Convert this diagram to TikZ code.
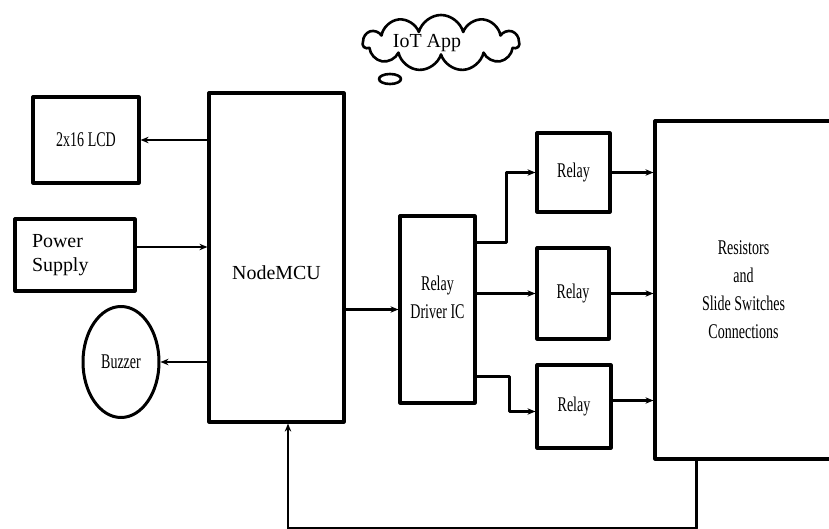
\documentclass[tikz,border=0pt]{standalone}
\usepackage{fontspec}
\setmainfont{Liberation Serif}
\newfontfamily\narrowfont[FakeStretch=0.67]{Liberation Serif}
\usetikzlibrary{arrows.meta,shapes.geometric,shapes.symbols}
\begin{document}
\begin{tikzpicture}[x=1bp, y=-1bp, font=\fontsize{20}{24}\selectfont, line join=round, line cap=round, >={Stealth[length=8bp,width=6.5bp]},
		box/.style={draw, line width=3.2bp, rectangle, inner sep=0pt},
		narrow/.style={font=\fontsize{21}{28}\selectfont\narrowfont, align=center},
		wire/.style={line width=2.6bp, ->}]
			\useasboundingbox (0,0) rectangle (829,529);
			\node[draw, line width=2.6bp, cloud, cloud puffs=11, minimum width=156bp, minimum height=56bp, inner sep=0pt] (app) at (441,43) {};
			\node at ([xshift=-14bp]app.center) {IoT App};
			\draw[line width=2.6bp] (390,79) ellipse [x radius=11, y radius=5];
			\node[box, minimum width=135bp, minimum height=329bp, label={[yshift=-15bp]center:NodeMCU}] (mcu) at (276.5,257.5) {};
			\node[box, narrow, minimum width=106bp, minimum height=86bp] (lcd) at (86,140) {2x16 LCD};
			\node[box, text width=86bp, inner xsep=17bp, minimum height=72bp, align=left, font=\fontsize{20}{24}\selectfont] (power) at (75,255) {Power\\Supply};
			\node[draw, line width=3bp, ellipse, narrow, minimum width=76bp, minimum height=111bp, inner sep=0pt] (buzzer) at (121,362) {Buzzer};
			\node[box, minimum width=75bp, minimum height=187bp, label={[narrow, yshift=12bp]center:Relay\\Driver IC}] (driver) at (437.5,309.5) {};
			\node[box, narrow, minimum width=73bp, minimum height=79bp] (relayA) at (573.5,172.5) {Relay};
			\node[box, narrow, minimum width=72bp, minimum height=91bp] (relayB) at (573,293.5) {Relay};
			\node[box, narrow, minimum width=74bp, minimum height=83bp] (relayC) at (574,406.5) {Relay};
			\node[box, narrow, minimum width=177bp, minimum height=338bp] (res) at (743.5,290) {Resistors\\and\\Slide Switches\\Connections};
			\draw[wire] (mcu.west |- lcd.east) -- (lcd.east);
			\draw[wire] ([yshift=8bp]power.east) -- ([yshift=8bp]power.east -| mcu.west);
			\draw[wire] (mcu.west |- buzzer.east) -- (buzzer.east);
			\draw[wire] (mcu.east |- driver.west) -- (driver.west);
			\draw[wire] ([yshift=-28bp]driver.north east) -- ++(30,0) |- (relayA.west);
			\draw[wire] (driver.east |- relayB.west) -- (relayB.west);
			\draw[wire] ([yshift=28bp]driver.south east) -- ++(33,0) |- ([yshift=-5bp]relayC.west);
			\draw[wire] (relayA.east) -- (relayA.east -| res.west);
			\draw[wire] (relayB.east) -- (relayB.east -| res.west);
			\draw[wire] ([yshift=6bp]relayC.east) -- ([yshift=6bp]relayC.east -| res.west);
			\draw[wire] ([xshift=43bp]res.south west) -- ++(0,68) -| ([xshift=11.5bp]mcu.south);
		\end{tikzpicture}
\end{document}
